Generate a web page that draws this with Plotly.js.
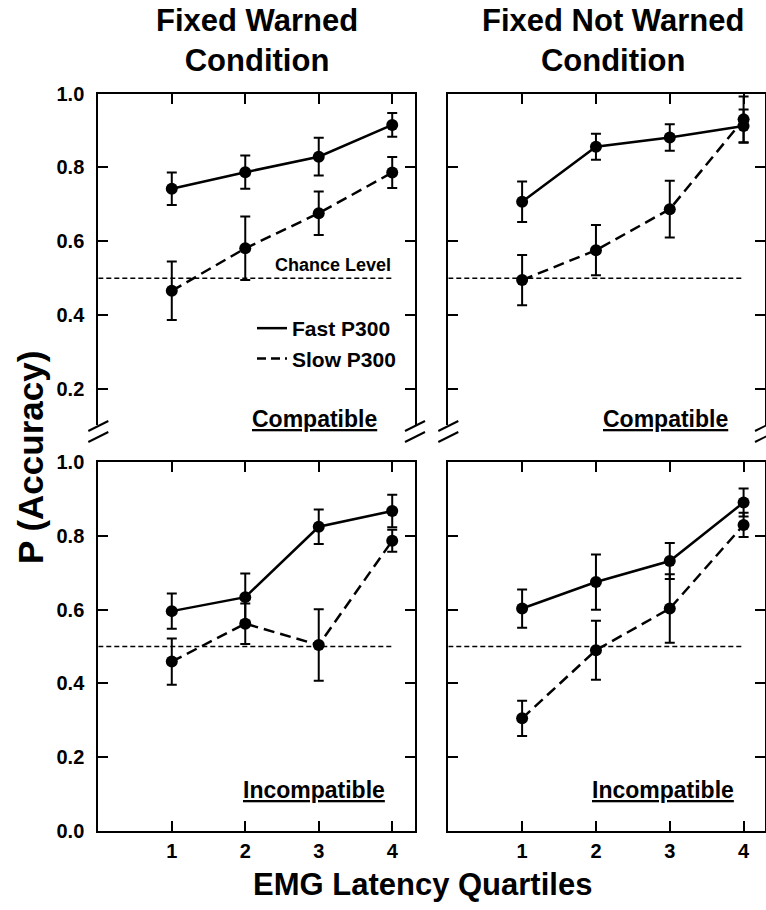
<!DOCTYPE html>
<html>
<head>
<meta charset="utf-8">
<script src="https://cdn.plot.ly/plotly-3.0.1.min.js"></script>
<style>html,body{margin:0;padding:0;background:#fff;}#chart{width:766px;height:910px;}</style>
</head>
<body>
<div id="chart"></div>
<script>
// ---- data ----
const quartiles = [1, 2, 3, 4];
const tickLabelsX = ["1", "2", "3", "4"];
const panelTitles = ["Fixed Warned<br>Condition", "Fixed Not Warned<br>Condition"];
const rowLabels = ["Compatible", "Incompatible"];
const seriesNames = ["Fast P300", "Slow P300"];
const chanceX = [0, 4];
const chanceY = [0.5, 0.5];
const chanceLabel = "Chance Level";

// Fixed Warned, Compatible
const fastWC = [0.742, 0.787, 0.829, 0.915];
const errFastWC = [0.044, 0.045, 0.051, 0.032];
const slowWC = [0.466, 0.581, 0.676, 0.786];
const errSlowWC = [0.079, 0.086, 0.059, 0.042];
// Fixed Not Warned, Compatible
const fastNC = [0.707, 0.856, 0.881, 0.912];
const errFastNC = [0.055, 0.035, 0.036, 0.045];
const slowNC = [0.495, 0.576, 0.687, 0.930];
const errSlowNC = [0.068, 0.068, 0.077, 0.062];
// Fixed Warned, Incompatible
const fastWI = [0.596, 0.634, 0.825, 0.868];
const errFastWI = [0.048, 0.064, 0.047, 0.044];
const slowWI = [0.459, 0.562, 0.504, 0.787];
const errSlowWI = [0.063, 0.055, 0.097, 0.030];
// Fixed Not Warned, Incompatible
const fastNI = [0.603, 0.675, 0.732, 0.891];
const errFastNI = [0.052, 0.075, 0.049, 0.038];
const slowNI = [0.305, 0.490, 0.603, 0.830];
const errSlowNI = [0.048, 0.080, 0.093, 0.033];

const yTicksTop = [0.2, 0.4, 0.6, 0.8, 1.0];
const yTicksBottom = [0.0, 0.2, 0.4, 0.6, 0.8, 1.0];

// ---- layout helpers ----
const W = 766, H = 910;
const px = v => v / W;
const py = v => 1 - v / H;
const FONT = '"Liberation Sans", Arial, Helvetica, sans-serif';
const BLACK = '#000';

const panels = [
  {x: 'x',  y: 'y',  fast: fastWC, ef: errFastWC, slow: slowWC, es: errSlowWC},
  {x: 'x2', y: 'y2', fast: fastNC, ef: errFastNC, slow: slowNC, es: errSlowNC},
  {x: 'x3', y: 'y3', fast: fastWI, ef: errFastWI, slow: slowWI, es: errSlowWI},
  {x: 'x4', y: 'y4', fast: fastNI, ef: errFastNI, slow: slowNI, es: errSlowNI}
];

const traces = [];
panels.forEach(p => {
  traces.push({
    x: chanceX, y: chanceY, xaxis: p.x, yaxis: p.y, mode: 'lines',
    line: {color: BLACK, width: 1.5, dash: '5px,3px'}, showlegend: false, hoverinfo: 'skip'
  });
  traces.push({
    x: quartiles, y: p.slow, xaxis: p.x, yaxis: p.y, mode: 'lines+markers', name: seriesNames[1],
    line: {color: BLACK, width: 2.5, dash: '11px,6px'},
    marker: {color: BLACK, size: 12},
    error_y: {type: 'data', array: p.es, visible: true, color: BLACK, thickness: 2, width: 5},
    showlegend: false
  });
  traces.push({
    x: quartiles, y: p.fast, xaxis: p.x, yaxis: p.y, mode: 'lines+markers', name: seriesNames[0],
    line: {color: BLACK, width: 2.5},
    marker: {color: BLACK, size: 12},
    error_y: {type: 'data', array: p.ef, visible: true, color: BLACK, thickness: 2, width: 5},
    showlegend: false
  });
});
// legend entries (line styles only)
traces.push({x: [null], y: [null], xaxis: 'x', yaxis: 'y', mode: 'lines', name: seriesNames[0],
  line: {color: BLACK, width: 2.5}, showlegend: true});
traces.push({x: [null], y: [null], xaxis: 'x', yaxis: 'y', mode: 'lines', name: seriesNames[1],
  line: {color: BLACK, width: 2.5, dash: '9px,5px'}, showlegend: true});

const colL = [px(98.3), px(415)];
const colR = [px(448.3), px(765)];
const rowTop = [py(425), py(93.5)];
const rowGap = [py(462.3), py(436)];
const rowBot = [py(830.7), py(462.3)];
const rangeL = [0, 4.31];
const rangeR = [0, 4.29];
const topRange = [1 - (425 - 93.5) / 369.5, 1.0];

const tickFont = {family: FONT, size: 20, color: BLACK, weight: 'bold'};

function xTop(domain, range, anchor) {
  return {domain, range, anchor, side: 'top', showline: true, linewidth: 2, linecolor: BLACK,
    ticks: 'inside', ticklen: 10, tickwidth: 2, tickcolor: BLACK, tickvals: quartiles,
    showticklabels: false, showgrid: false, zeroline: false, fixedrange: true};
}
function xBottom(domain, range, anchor) {
  return {domain, range, anchor, side: 'bottom', showline: true, linewidth: 2, linecolor: BLACK,
    mirror: 'ticks', ticks: 'inside', ticklen: 10, tickwidth: 2, tickcolor: BLACK,
    tickvals: quartiles, ticktext: tickLabelsX, showticklabels: true, tickfont: tickFont,
    ticklabelstandoff: 1, showgrid: false, zeroline: false, fixedrange: true};
}
function xGap(domain, range, anchor) {
  return {domain, range, anchor, side: 'bottom', showline: false,
    ticks: 'inside', ticklen: 6, tickwidth: 2, tickcolor: BLACK, tickvals: quartiles,
    showticklabels: false, showgrid: false, zeroline: false, fixedrange: true};
}
function yAx(domain, range, anchor, labels, vals) {
  return {domain, range, anchor, showline: true, linewidth: 2, linecolor: BLACK, mirror: 'ticks',
    ticks: 'inside', ticklen: 10, tickwidth: 2, tickcolor: BLACK, tickvals: vals,
    tickformat: '.1f', showticklabels: labels, tickfont: tickFont, ticklabelstandoff: 8,
    showgrid: false, zeroline: false, fixedrange: true};
}
function yGap(domain, anchor) {
  return {domain, range: [0, 1], anchor, showline: true, linewidth: 2, linecolor: BLACK, mirror: true,
    ticks: '', showticklabels: false, showgrid: false, zeroline: false, fixedrange: true};
}

// break marks ("//") on each vertical axis
const shapes = [];
[98.3, 415, 448.3, 765].forEach(ax => {
  [426, 437].forEach(cy => {
    shapes.push({type: 'line', xref: 'paper', yref: 'paper',
      x0: px(ax - 10), y0: py(cy + 5), x1: px(ax + 10), y1: py(cy - 5),
      line: {color: BLACK, width: 2}});
  });
});

const titleFont = {family: FONT, size: 31, color: BLACK, weight: 'bold'};
const annotations = [];
const colCenters = [257, 613];
panelTitles.forEach((t, i) => {
  annotations.push({text: t, xref: 'paper', yref: 'paper', x: px(colCenters[i]), y: py(41),
    xanchor: 'center', yanchor: 'middle', showarrow: false, font: titleFont});
});
const labFont = {family: FONT, size: 23, color: BLACK, weight: 'bold', lineposition: 'under'};
[[314.5, 419, rowLabels[0]], [665, 419, rowLabels[0]], [314, 790, rowLabels[1]], [663, 790, rowLabels[1]]]
  .forEach(([cx, cy, t]) => annotations.push({text: t, xref: 'paper', yref: 'paper', x: px(cx), y: py(cy),
    xanchor: 'center', yanchor: 'middle', showarrow: false, font: labFont}));
annotations.push({text: chanceLabel, xref: 'paper', yref: 'paper', x: px(393), y: py(265),
  xanchor: 'right', yanchor: 'middle', showarrow: false,
  font: {family: FONT, size: 18, color: BLACK, weight: 'bold'}});
annotations.push({text: 'P (Accuracy)', xref: 'paper', yref: 'paper', x: px(30), y: py(458),
  xanchor: 'center', yanchor: 'middle', textangle: -90, showarrow: false,
  font: {family: FONT, size: 35, color: BLACK, weight: 'bold'}});
annotations.push({text: 'EMG Latency Quartiles', xref: 'paper', yref: 'paper', x: px(422), y: py(884),
  xanchor: 'center', yanchor: 'middle', showarrow: false,
  font: {family: FONT, size: 31, color: BLACK, weight: 'bold'}});

const layout = {
  width: W, height: H, margin: {l: 0, r: 0, t: 0, b: 0},
  paper_bgcolor: '#fff', plot_bgcolor: 'rgba(0,0,0,0)',
  font: {family: FONT, color: BLACK},
  showlegend: true,
  legend: {x: px(252), y: py(308), xanchor: 'left', yanchor: 'top', bgcolor: 'rgba(0,0,0,0)',
    borderwidth: 0, itemwidth: 30, tracegroupgap: 0,
    font: {family: FONT, size: 21, color: BLACK, weight: 'bold'}},
  xaxis: xTop(colL, rangeL, 'y'),
  yaxis: yAx(rowTop, topRange, 'x', true, yTicksTop),
  xaxis2: xTop(colR, rangeR, 'y2'),
  yaxis2: yAx(rowTop, topRange, 'x2', false, yTicksTop),
  xaxis3: xBottom(colL, rangeL, 'y3'),
  yaxis3: yAx(rowBot, [0, 1], 'x3', true, yTicksBottom),
  xaxis4: xBottom(colR, rangeR, 'y4'),
  yaxis4: yAx(rowBot, [0, 1], 'x4', false, yTicksBottom),
  xaxis5: xGap(colL, rangeL, 'y5'),
  yaxis5: yGap(rowGap, 'x5'),
  xaxis6: xGap(colR, rangeR, 'y6'),
  yaxis6: yGap(rowGap, 'x6'),
  shapes, annotations
};

Plotly.newPlot('chart', traces, layout, {staticPlot: true, displayModeBar: false});
</script>
</body>
</html>
